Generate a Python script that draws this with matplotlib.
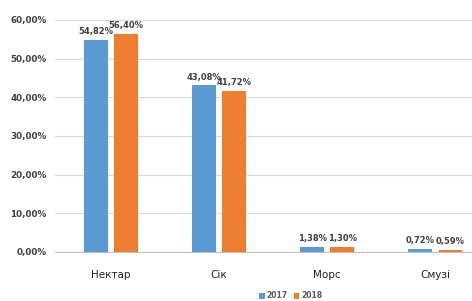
import matplotlib
matplotlib.use("Agg")
import matplotlib.pyplot as plt
import numpy as np

categories = ["Нектар", "Сік", "Морс", "Смузі"]
years = ["2017", "2018"]
values_2017 = [54.82, 43.08, 1.38, 0.72]
values_2018 = [56.40, 41.72, 1.30, 0.59]
yticks = [0, 10, 20, 30, 40, 50, 60]

blue = "#5B9BD5"
orange = "#ED7D31"

fig = plt.figure(figsize=(4.72, 3.01), dpi=100)
ax = fig.add_axes([55/472, 49/301, (472-55)/472, (252-20)/301])

x = np.arange(len(categories))
w = 0.22
off = 0.14
b1 = ax.bar(x - off, values_2017, w, color=blue, label=years[0], zorder=3)
b2 = ax.bar(x + off, values_2018, w, color=orange, label=years[1], zorder=3)

def fmt(v):
    return f"{v:.2f}%".replace(".", ",")

for bars, vals in ((b1, values_2017), (b2, values_2018)):
    for r, v in zip(bars, vals):
        ax.text(r.get_x() + r.get_width()/2, v + 1.0, fmt(v), ha="center", va="bottom",
                fontsize=6, color="#404040", fontweight="bold")

ax.set_ylim(0, 60)
ax.set_xlim(-0.52, 3.34)
ax.set_yticks(yticks)
ax.set_yticklabels([f"{t:.2f}%".replace(".", ",") for t in yticks], fontsize=6.3,
                   color="#404040", fontweight="bold")
ax.set_xticks(x)
ax.set_xticklabels(categories, fontsize=7.5, color="#222222")
ax.tick_params(axis="both", length=0)
ax.tick_params(axis="x", pad=13)
ax.tick_params(axis="y", pad=6)
ax.grid(axis="y", color="#D9D9D9", linewidth=0.8, zorder=0)
for s in ["top", "right", "left"]:
    ax.spines[s].set_visible(False)
ax.spines["bottom"].set_color("#BFBFBF")

leg = fig.legend(handles=[b1, b2], labels=years, loc="center", bbox_to_anchor=(291/472, 1 - 296/301),
                 ncol=2, frameon=False, fontsize=5.5, handlelength=0.7, handleheight=0.7,
                 columnspacing=0.8, handletextpad=0.3)
for t in leg.get_texts():
    t.set_color("#595959")
    t.set_fontweight("bold")

fig.savefig("out.png", dpi=100)
